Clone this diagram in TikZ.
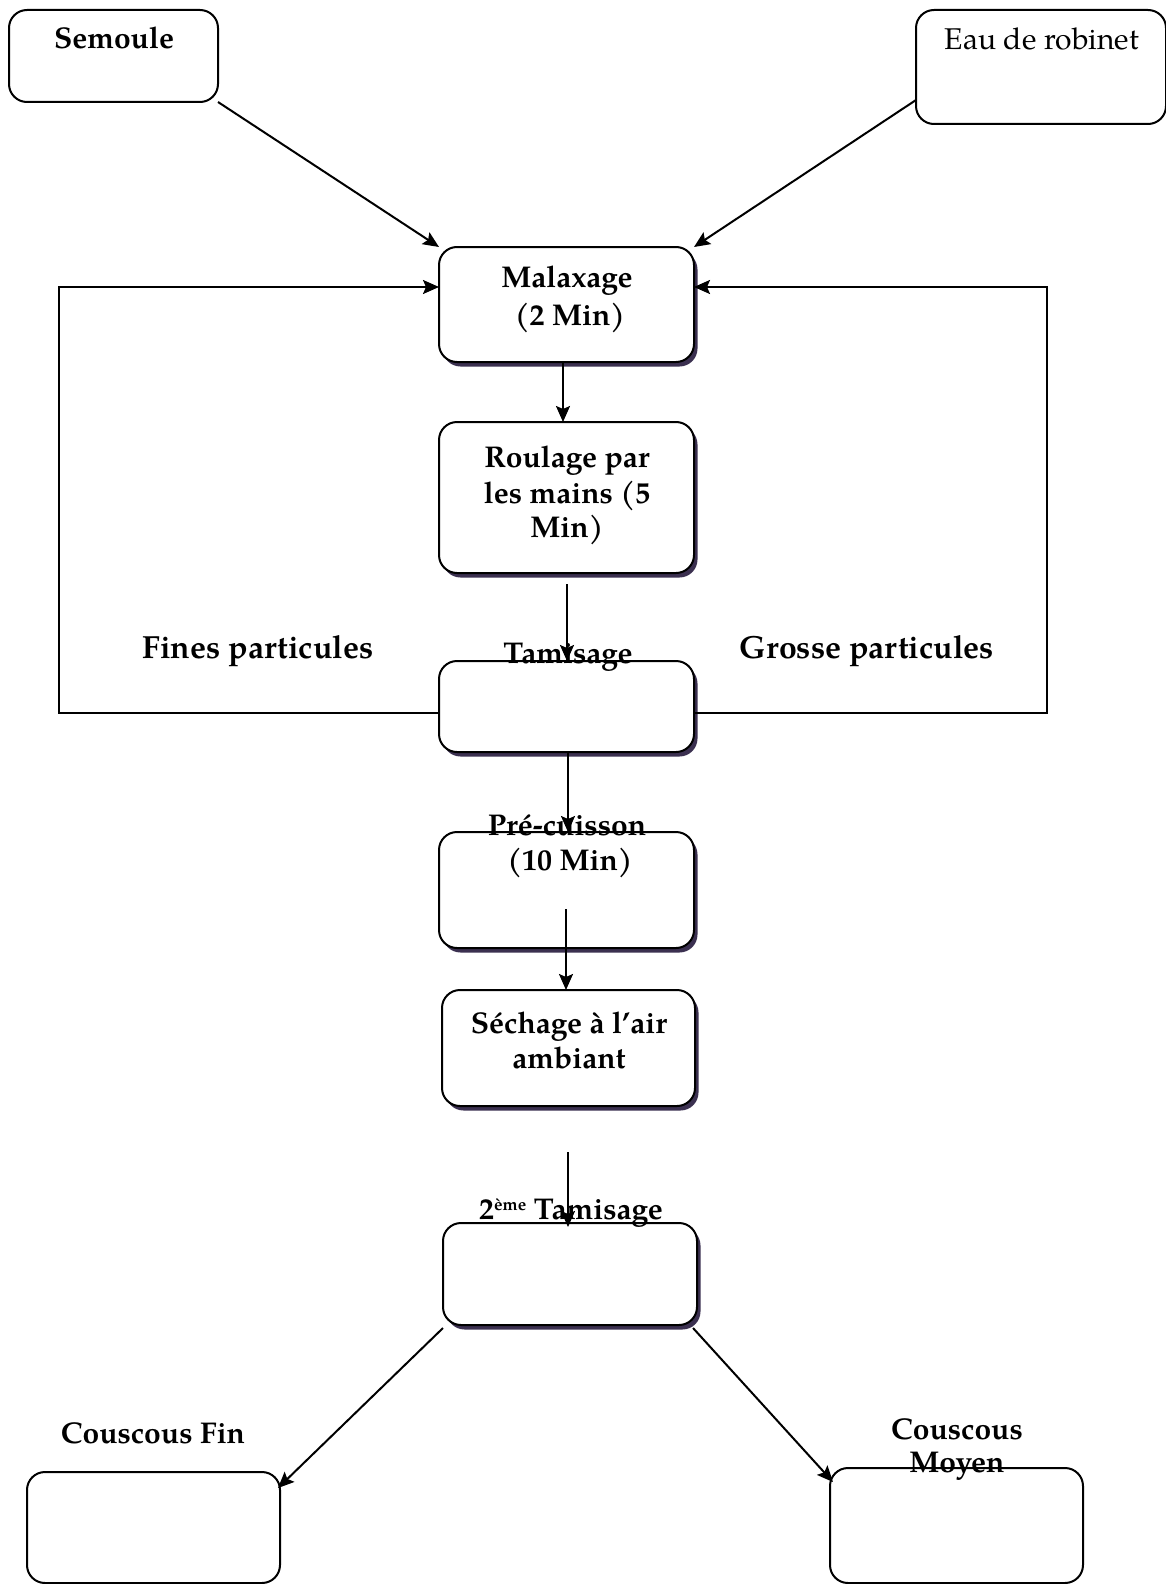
\documentclass[tikz,border=0pt]{standalone}
\usepackage{fontspec}
\setmainfont{texgyrepagella}[Extension=.otf, UprightFont=*-regular, BoldFont=*-bold]
\usetikzlibrary{arrows.meta,shadows}
\definecolor{shadowc}{HTML}{3B3050}
\tikzset{
  box/.style={draw, line width=2pt, rounded corners=18pt, outer sep=0pt, inner sep=0pt, fill=white},
  sbox/.style={box, drop shadow={shadow xshift=3.5pt, shadow yshift=-4.5pt, fill=shadowc, opacity=1}},
  lbl/.style={anchor=base, inner sep=0pt, font=\fontsize{30}{35}\selectfont\bfseries},
  rlbl/.style={anchor=base, inner sep=0pt, font=\fontsize{30}{35}\selectfont},
  big/.style={anchor=base, inner sep=0pt, font=\fontsize{32}{38}\selectfont\bfseries},
  arr/.style={line width=2pt, -{Stealth[length=16pt,width=14pt,inset=3pt]}}
}
\begin{document}
\begin{tikzpicture}[x=1pt,y=-1pt]
\useasboundingbox[fill=white] (0,0) rectangle (1165,1584);
% boxes
\node[box, minimum width=209pt, minimum height=92pt] (sem) at (113.5,56) {};
\node[box, minimum width=250pt, minimum height=114pt] (eau) at (1041,67) {};
\node[sbox, minimum width=255pt, minimum height=115pt] (mal) at (566.5,304.5) {};
\node[sbox, minimum width=255pt, minimum height=151pt] (rou) at (566.5,497.5) {};
\node[sbox, minimum width=255pt, minimum height=91pt] (tam) at (566.5,706.5) {};
\node[sbox, minimum width=255pt, minimum height=116pt] (pre) at (566.5,890) {};
\node[sbox, minimum width=253pt, minimum height=116pt] (sec) at (568.5,1048) {};
\node[sbox, minimum width=254pt, minimum height=102pt] (tamb) at (570,1274) {};
\node[box, minimum width=253pt, minimum height=111pt] (fin) at (153.5,1527.5) {};
\node[box, minimum width=253pt, minimum height=115pt] (moy) at (956.5,1525.5) {};
% texts
\node[lbl] (tsem) at (114,49) {Semoule};
\node[rlbl] (teau) at (1042,50) {Eau de robinet};
\node[lbl] (tmalA) at (567,287) {Malaxage};
\node[lbl] (tmalB) at (570,325) {(2 Min)};
\node[lbl] (trouA) at (567,467) {Roulage par};
\node[lbl] (trouB) at (567,503) {les mains (5};
\node[lbl] (trouC) at (567,537) {Min)};
\node[lbl] (ttam) at (568,663) {Tamisage};
\node[lbl] (tpreA) at (567,835) {Pré-cuisson};
\node[lbl] (tpreB) at (570,870) {(10 Min)};
\node[lbl] (tsecA) at (569,1033) {Séchage à l’air};
\node[lbl] (tsecB) at (569,1068) {ambiant};
\node[lbl] (ttamb) at (571,1219) {2\raisebox{9pt}{\fontsize{17}{17}\selectfont ème} Tamisage};
\node[big] (tfines) at (258,658) {Fines particules};
\node[big] (tgros) at (867,658) {Grosse particules};
\node[lbl] (tfin) at (153,1443) {Couscous Fin};
\node[lbl] (tmoyA) at (957,1439) {Couscous};
\node[lbl] (tmoyB) at (957,1472) {Moyen};
% connector coordinates
\coordinate (e1) at (916,100);
\coordinate (m1) at (563,362);
\coordinate (r1) at (567,584);
\coordinate (t1) at (568,752);
\coordinate (p1) at (566,909);
\coordinate (s1) at (568,1152);
\coordinate (s2) at (568,1227);
\coordinate (b1) at (443,1328);
\coordinate (b2) at (278,1488);
\coordinate (b3) at (693,1328);
\coordinate (b4) at (833,1482);
\coordinate (tl) at (439,713);
\coordinate (tr) at (694,713);
\coordinate (fl) at (59,287);
\coordinate (fr) at (1047,287);
% connectors
\draw[arr] (sem.south east) -- (mal.north west);
\draw[arr] (e1) -- (mal.north east);
\draw[arr] (m1) -- (m1 |- rou.north);
\draw[arr] (r1) -- (r1 |- tam.north);
\draw[arr] (t1) -- (t1 |- pre.north);
\draw[arr] (p1) -- (p1 |- sec.north);
\draw[arr] (s1) -- (s2);
\draw[arr] (b1) -- (b2);
\draw[arr] (b3) -- (b4);
\draw[arr] (tl) -| (fl) -- (fl -| mal.west);
\draw[arr] (tr) -| (fr) -- (fr -| mal.east);
\end{tikzpicture}
\end{document}
